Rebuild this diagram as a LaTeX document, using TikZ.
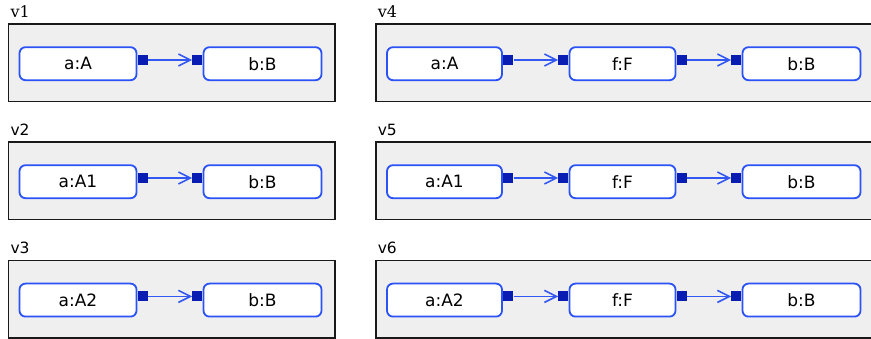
\documentclass[tikz,border=0pt]{standalone}
\usepackage{fontspec}
\setmainfont{DejaVu Sans}
\newfontfamily\vserif{DejaVu Serif}
\usetikzlibrary{arrows.meta}
\definecolor{nodeblue}{HTML}{2B52F6}
\definecolor{portblue}{HTML}{0A1DB2}
\definecolor{lineblue}{HTML}{3358F2}
\definecolor{panelgray}{HTML}{EFEFEF}
\tikzset{
  panel/.style={draw=black!90, line width=1.6pt, fill=panelgray},
  comp/.style={draw=nodeblue, line width=1.8pt, fill=white, rounded corners=6pt,
    minimum height=33pt, inner sep=0pt, font=\fontsize{17}{17}\selectfont},
  port/.style={fill=portblue, minimum size=10pt, inner sep=0pt, draw=none},
  conn/.style={draw=lineblue, line width=1.6pt, -{Straight Barb[length=12pt,width=12pt]}},
  vlabel/.style={anchor=base west, inner sep=0pt},
}
\begin{document}
\begin{tikzpicture}[x=1pt,y=-1pt]
\useasboundingbox (0,0) rectangle (871,339);
% ---------- left column ----------
\foreach \T/\i/\lab/\aname/\fnt in {24.3/1/v1/a:A/\vserif\fontsize{16}{16}\selectfont, 142.3/2/v2/a:A1/\fontsize{15.5}{15.5}\selectfont, 260.7/3/v3/a:A2/\fontsize{15.5}{15.5}\selectfont}{
  \draw[panel] (8.3,\T) rectangle (335,\T+77.4);
  \node[vlabel, font=\fnt] (lab\i) at (10.3,\T-7) {\lab};
  \node[comp, minimum width=117pt] (a\i) at (78,\T+39.4) {\aname};
  \node[comp, minimum width=118pt] (b\i) at (262.5,\T+39.4) {b:B};
  \node[port, anchor=west] (pa\i) at ([xshift=0.2pt,yshift=3.7pt]a\i.east) {};
  \node[port, anchor=east] (pb\i) at ([yshift=3.7pt]b\i.west) {};
  \draw[conn] (pa\i.east) -- (pb\i.west);
}
% ---------- right column ----------
\foreach \T/\i/\lab/\aname/\fnt in {24.3/4/v4/a:A/\vserif\fontsize{16}{16}\selectfont, 142.3/5/v5/a:A1/\fontsize{15.5}{15.5}\selectfont, 260.7/6/v6/a:A2/\fontsize{15.5}{15.5}\selectfont}{
  \draw[panel] (375.7,\T) rectangle (876,\T+77.4);
  \node[vlabel, font=\fnt] (lab\i) at (377.6,\T-7) {\lab};
  \node[comp, minimum width=115pt] (a\i) at (444.5,\T+39.4) {\aname};
  \node[comp, minimum width=106pt] (f\i) at (622.5,\T+39.4) {f:F};
  \node[comp, minimum width=118pt] (b\i) at (801.5,\T+39.4) {b:B};
  \node[port, anchor=west] (pa\i) at ([xshift=0.2pt,yshift=3.7pt]a\i.east) {};
  \node[port, anchor=east] (pfi\i) at ([yshift=3.7pt]f\i.west) {};
  \node[port, anchor=west] (pfo\i) at ([xshift=0.2pt,yshift=3.7pt]f\i.east) {};
  \node[port, anchor=east] (pb\i) at ([yshift=3.7pt]b\i.west) {};
  \draw[conn] (pa\i.east) -- (pfi\i.west);
  \draw[conn] (pfo\i.east) -- (pb\i.west);
}
\end{tikzpicture}
\end{document}
